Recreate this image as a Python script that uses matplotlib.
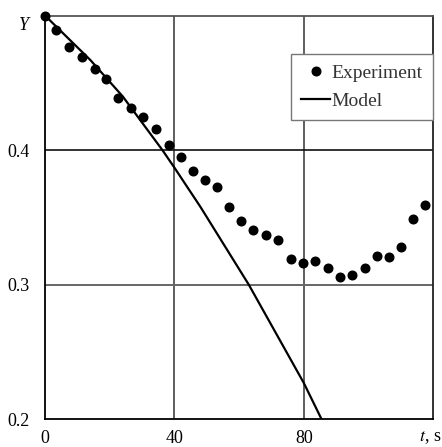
import matplotlib
matplotlib.use("Agg")
from matplotlib import pyplot as plt

plt.rcParams['font.family'] = ['Liberation Serif', 'DejaVu Serif']

# Experiment points (t in s, Y)
t_exp = [0, 3.5, 7.3, 11.3, 15.3, 18.8, 22.5, 26.6, 30.3, 34.2, 38.2, 42.0,
         45.8, 49.6, 53.3, 56.9, 60.6, 64.2, 68.3, 72.1, 76.0, 79.7, 83.5,
         87.4, 91.2, 95.0, 98.8, 102.6, 106.4, 110.0, 113.7, 117.6]
y_exp = [0.5, 0.4894, 0.477, 0.4695, 0.460, 0.4532, 0.4386, 0.4314, 0.4249,
         0.416, 0.4036, 0.3952, 0.3845, 0.3778, 0.3724, 0.358, 0.3471, 0.3407,
         0.337, 0.3332, 0.3191, 0.3159, 0.3178, 0.3126, 0.3055, 0.3072, 0.3122,
         0.3216, 0.3204, 0.3283, 0.3488, 0.3593]

# Model curve
t_mod = [0, 14, 24, 36.3, 40, 48, 63, 80, 85.5]
y_mod = [0.5, 0.467, 0.44, 0.4, 0.387, 0.358, 0.3, 0.227, 0.2]

x_ticks = [0, 40, 80]
x_labels = ['0', '40', '80']
y_ticks = [0.2, 0.3, 0.4]
y_labels = ['0.2', '0.3', '0.4']

fig = plt.figure(figsize=(4.42, 4.47), dpi=100)
ax = fig.add_axes([0.102, 0.062, 0.878, 0.903])

for xv in [40, 80]:
    ax.axvline(xv, color='#333333', lw=1.1, zorder=1)
ax.axhline(0.4, color='#111111', lw=1.2, zorder=1)
ax.axhline(0.3, color='#666666', lw=1.4, zorder=1)

ax.plot(t_mod, y_mod, color='black', lw=1.6, label='Model', zorder=3)
ax.plot(t_exp, y_exp, 'o', color='black', ms=6.2, label='Experiment',
        clip_on=False, zorder=4)

ax.set_xlim(0, 120)
ax.set_ylim(0.2, 0.5)
ax.set_xticks(x_ticks)
ax.set_xticklabels(x_labels)
ax.set_yticks(y_ticks)
ax.set_yticklabels(y_labels)
ax.tick_params(length=0, labelsize=13)
ax.tick_params(axis='x', pad=8)
ax.tick_params(axis='y', pad=11)

ax.spines['left'].set_color('black')
ax.spines['bottom'].set_color('black')
ax.spines['top'].set_color('#555555')
ax.spines['right'].set_color('#222222')
for s in ax.spines.values():
    s.set_linewidth(1.3)

ax.text(-0.055, 0.975, 'Y', transform=ax.transAxes, fontsize=13,
        style='italic', ha='center', va='center')
fig.text(0.998, 0.022, '$\\mathit{t}$, s', fontsize=13,
         ha='right', va='center', math_fontfamily='stix')

h, l = ax.get_legend_handles_labels()
leg = ax.legend(h[::-1], l[::-1], loc='upper right', bbox_to_anchor=(1.0, 0.905),
                borderaxespad=0, fancybox=False, framealpha=1, edgecolor='#777777',
                fontsize=14, handlelength=1.5, handletextpad=0.05,
                borderpad=0.55, labelspacing=0.5, labelcolor='#333333')
leg.get_frame().set_linewidth(1.0)
leg.set_zorder(5)

fig.savefig('out.png', dpi=100)
